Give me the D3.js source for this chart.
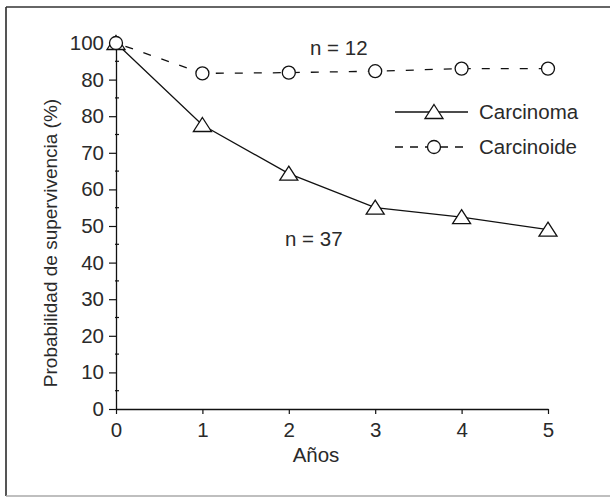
<!DOCTYPE html>
<html><head><meta charset="utf-8">
<script src="https://cdn.jsdelivr.net/npm/d3@7"></script>
<style>
html,body{margin:0;padding:0;background:#fff;}
svg{display:block;}
text{font-family:"Liberation Sans",Arial,Helvetica,sans-serif;fill:#2a2a2a;}
</style></head>
<body>
<script>
const years = [0, 1, 2, 3, 4, 5];
const carcinoma = [100, 77.6, 64.3, 55.0, 52.4, 49.0];
const carcinoide = [100, 91.7, 91.9, 92.3, 93.0, 93.0];
const seriesNames = ["Carcinoma", "Carcinoide"];
const nLabels = ["n = 12", "n = 37"];
const yTickValues = [0, 10, 20, 30, 40, 50, 60, 70, 80, 90, 100];
const yTickLabels = ["0", "10", "20", "30", "40", "50", "60", "70", "80", "80", "100"];
const yMinorTicks = [5, 15, 25, 35, 45, 55, 65, 75, 85, 95];
const xTickValues = [0, 1, 2, 3, 4, 5];
const xTickLabels = ["0", "1", "2", "3", "4", "5"];
const xTitle = "Años";
const yTitle = "Probabilidad de supervivencia (%)";

const W = 610, H = 497;
const svg = d3.select("body").append("svg").attr("width", W).attr("height", H);

// frame
svg.append("line").attr("x1", 6).attr("x2", 6).attr("y1", 7).attr("y2", 496)
  .attr("stroke", "#555").attr("stroke-width", 2);
svg.append("line").attr("x1", 6).attr("x2", 610).attr("y1", 7).attr("y2", 7)
  .attr("stroke", "#333").attr("stroke-width", 1.5);
svg.append("line").attr("x1", 6).attr("x2", 610).attr("y1", 496).attr("y2", 496)
  .attr("stroke", "#aaa").attr("stroke-width", 1.5);

const x = d3.scaleLinear().domain([0, 5]).range([116, 548]);
const y = d3.scaleLinear().domain([0, 100]).range([409, 43]);

// y axis
const yAxis = d3.axisLeft(y).tickValues(yTickValues)
  .tickFormat((d, i) => yTickLabels[i]).tickSize(7).tickPadding(5).tickSizeOuter(0);
const gy = svg.append("g").attr("transform", `translate(${x(0)},0)`).call(yAxis);
gy.select(".domain").attr("stroke", "#111").attr("stroke-width", 1.3);
gy.selectAll(".tick line").attr("stroke", "#111").attr("stroke-width", 1.2);
gy.selectAll(".tick text").attr("font-size", 20.5).attr("fill", "#2a2a2a")
  .attr("font-family", "Liberation Sans, Arial, sans-serif");
svg.append("g").selectAll("line").data(yMinorTicks).join("line")
  .attr("x1", x(0) - 1).attr("x2", x(0) + 3)
  .attr("y1", d => y(d)).attr("y2", d => y(d))
  .attr("stroke", "#111").attr("stroke-width", 1.2);

// x axis
const xAxis = d3.axisBottom(x).tickValues(xTickValues)
  .tickFormat((d, i) => xTickLabels[i]).tickSize(5).tickPadding(8).tickSizeOuter(0);
const gx = svg.append("g").attr("transform", `translate(0,${y(0)})`).call(xAxis);
gx.select(".domain").attr("stroke", "#111").attr("stroke-width", 1.3);
gx.selectAll(".tick line").attr("stroke", "#111").attr("stroke-width", 1.2);
gx.selectAll(".tick text").attr("font-size", 20.5).attr("fill", "#2a2a2a")
  .attr("font-family", "Liberation Sans, Arial, sans-serif");

// titles
svg.append("text").attr("x", 316).attr("y", 462).attr("text-anchor", "middle")
  .attr("font-size", 20.5).text(xTitle);
svg.append("text").attr("transform", "translate(57,243) rotate(-90)")
  .attr("text-anchor", "middle").attr("font-size", 19).text(yTitle);

// lines
const lineGen = d3.line().x(d => x(d[0])).y(d => y(d[1]));
const dataA = years.map((d, i) => [d, carcinoma[i]]);
const dataB = years.map((d, i) => [d, carcinoide[i]]);
svg.append("path").attr("d", lineGen(dataA)).attr("fill", "none")
  .attr("stroke", "#111").attr("stroke-width", 1.3);
svg.append("path").attr("d", lineGen(dataB)).attr("fill", "none")
  .attr("stroke", "#111").attr("stroke-width", 1.3).attr("stroke-dasharray", "8,11")
  .attr("stroke-dashoffset", -10);

const tri = "M0,-7.5L9,6.5L-9,6.5Z";
svg.append("g").selectAll("path").data(dataA).join("path")
  .attr("d", tri).attr("transform", d => `translate(${x(d[0])},${y(d[1])})`)
  .attr("fill", "#fff").attr("stroke", "#111").attr("stroke-width", 1.3);
svg.append("g").selectAll("circle").data(dataB).join("circle")
  .attr("cx", d => x(d[0])).attr("cy", d => y(d[1])).attr("r", 6.5)
  .attr("fill", "#fff").attr("stroke", "#111").attr("stroke-width", 1.3);

// n labels
svg.append("text").attr("x", 310).attr("y", 55).attr("font-size", 20.5).text(nLabels[0]);
svg.append("text").attr("x", 285).attr("y", 246).attr("font-size", 20.5).text(nLabels[1]);

// legend
const lx1 = 395, lx2 = 468, lxm = 434;
const ly1 = 112, ly2 = 147;
svg.append("line").attr("x1", lx1).attr("x2", lx2).attr("y1", ly1).attr("y2", ly1)
  .attr("stroke", "#111").attr("stroke-width", 1.3);
svg.append("path").attr("d", tri).attr("transform", `translate(${lxm},${ly1})`)
  .attr("fill", "#fff").attr("stroke", "#111").attr("stroke-width", 1.3);
svg.append("line").attr("x1", lx1).attr("x2", lx2).attr("y1", ly2).attr("y2", ly2)
  .attr("stroke", "#111").attr("stroke-width", 1.3).attr("stroke-dasharray", "8,7");
svg.append("circle").attr("cx", lxm).attr("cy", ly2).attr("r", 6.5)
  .attr("fill", "#fff").attr("stroke", "#111").attr("stroke-width", 1.3);
svg.append("text").attr("x", 479).attr("y", ly1 + 7).attr("font-size", 20.5).text(seriesNames[0]);
svg.append("text").attr("x", 479).attr("y", ly2 + 7).attr("font-size", 20.5).text(seriesNames[1]);
</script>
</body></html>
